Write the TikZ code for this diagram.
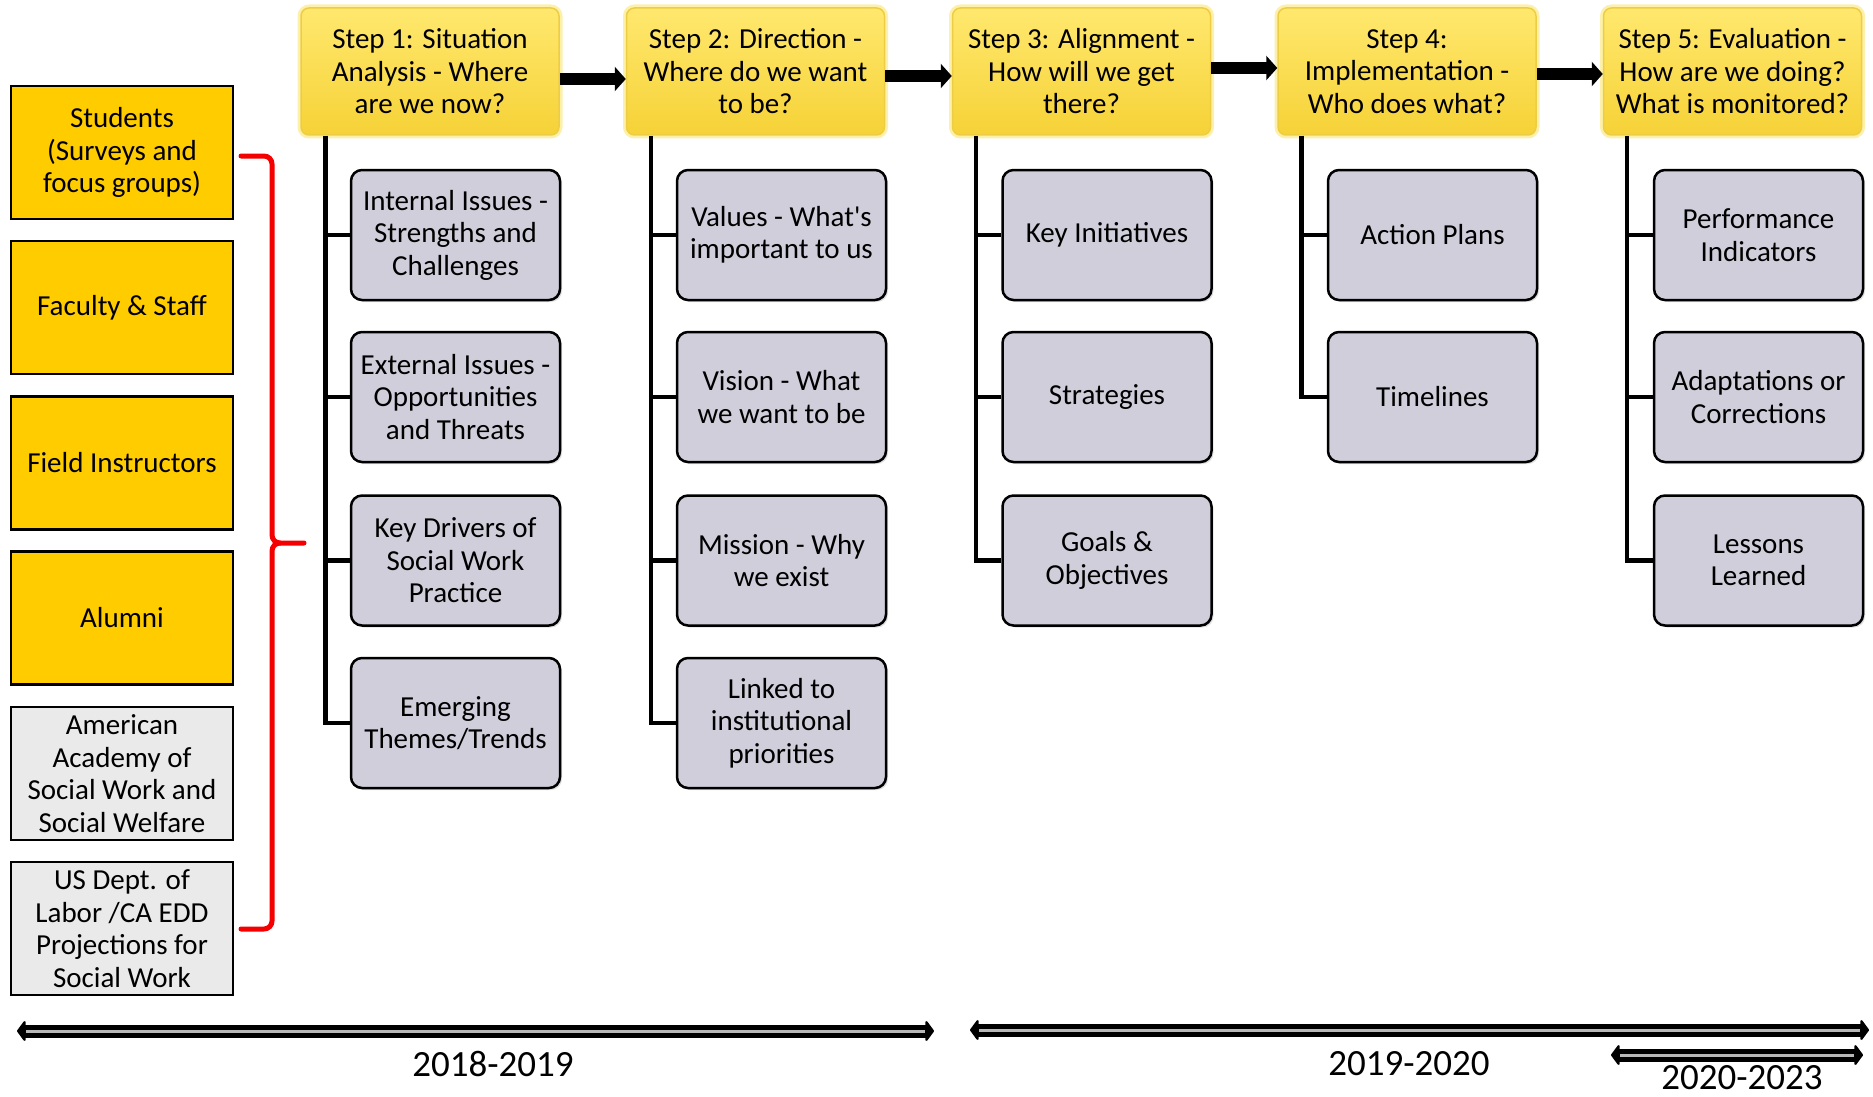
\documentclass[tikz,border=0pt]{standalone}
\usepackage{fontspec}
\setmainfont{Carlito}
\usetikzlibrary{arrows.meta,shadows}
\definecolor{steptop}{RGB}{255,232,110}
\definecolor{stepbot}{RGB}{246,210,55}
\definecolor{stepedge}{RGB}{238,205,70}
\definecolor{stepglow}{RGB}{252,240,170}
\definecolor{childfill}{RGB}{208,206,218}
\definecolor{goldfill}{RGB}{255,204,0}
\definecolor{greyfill}{RGB}{234,234,234}
\definecolor{bracered}{RGB}{245,0,0}
\begin{document}
\begin{tikzpicture}[x=1pt,y=-1pt,
  basefont/.style={font=\fontsize{29}{32.5}\selectfont},
  stepbox/.style={basefont, align=center, minimum width=258pt, minimum height=127pt, inner sep=0pt,
    rounded corners=8pt, top color=steptop, bottom color=stepbot, draw=stepedge, line width=1.5pt,
    preaction={draw=stepglow, line width=7pt}},
  childbox/.style={basefont, align=center, minimum width=209pt, minimum height=130pt, inner sep=0pt,
    rounded corners=11pt, fill=childfill, draw=black, line width=2.5pt,
    drop shadow={shadow xshift=2pt, shadow yshift=-2pt, opacity=0.25}},
  srcbox/.style={basefont, align=center, minimum width=222pt, minimum height=133pt, inner sep=0pt,
    draw=black, line width=2.5pt},
  treeline/.style={line width=4.5pt, black},
  steparrow/.style={line width=12pt, -{Triangle[width=24pt,length=11pt]}},
  tlarrow/.style={line width=13pt, black, line join=round, {Triangle[width=24pt,length=9pt,round]}-{Triangle[width=24pt,length=9pt,round]}},
  tlinner/.style={line width=3pt, black!28},
  yearlabel/.style={font=\fontsize{37}{40}\selectfont}
]
\useasboundingbox (0,0) rectangle (1873,1097);

% Step boxes
\node[stepbox] (s1) at (430,71.5) {Step 1: Situation\\Analysis - Where\\are we now?};
\node[stepbox] (s2) at (755.5,71.5) {Step 2: Direction -\\Where do we want\\to be?};
\node[stepbox] (s3) at (1081.5,71.5) {Step 3: Alignment -\\How will we get\\there?};
\node[stepbox] (s4) at (1407,71.5) {Step 4:\\Implementation -\\Who does what?};
\node[stepbox] (s5) at (1732.5,71.5) {Step 5: Evaluation -\\How are we doing?\\What is monitored?};

% Step arrows
\draw[steparrow] (s1.east |- 0,79) -- (s2.west |- 0,79);
\draw[steparrow] (s2.east |- 0,76) -- (s3.west |- 0,76);
\draw[steparrow] (s3.east |- 0,68) -- (s4.west |- 0,68);
\draw[steparrow] (s4.east |- 0,74) -- (s5.west |- 0,74);

% Children
\node[childbox] (c11) at (455.5,235) {Internal Issues -\\Strengths and\\Challenges};
\node[childbox] (c12) at (455.5,397) {External Issues -\\Opportunities\\and Threats};
\node[childbox] (c13) at (455.5,560.5) {Key Drivers of\\Social Work\\Practice};
\node[childbox] (c14) at (455.5,723) {Emerging\\Themes/Trends};

\node[childbox] (c21) at (781.5,235) {Values - What\textquotesingle s\\important to us};
\node[childbox] (c22) at (781.5,397) {Vision - What\\we want to be};
\node[childbox] (c23) at (781.5,560.5) {Mission - Why\\we exist};
\node[childbox] (c24) at (781.5,723) {Linked to\\institutional\\priorities};

\node[childbox] (c31) at (1107,235) {Key Initiatives};
\node[childbox] (c32) at (1107,397) {Strategies};
\node[childbox] (c33) at (1107,560.5) {Goals \&\\Objectives};

\node[childbox] (c41) at (1432.5,235) {Action Plans};
\node[childbox] (c42) at (1432.5,397) {Timelines};

\node[childbox] (c51) at (1758.5,235) {Performance\\Indicators};
\node[childbox] (c52) at (1758.5,397) {Adaptations or\\Corrections};
\node[childbox] (c53) at (1758.5,560.5) {Lessons\\Learned};

% Tree lines
\draw[treeline] ([xshift=25pt]s1.south west) |- (c14.west);
\foreach \c in {c11,c12,c13} \draw[treeline] ([xshift=25pt]s1.south west |- \c.west) -- (\c.west);
\draw[treeline] ([xshift=25pt]s2.south west) |- (c24.west);
\foreach \c in {c21,c22,c23} \draw[treeline] ([xshift=25pt]s2.south west |- \c.west) -- (\c.west);
\draw[treeline] ([xshift=24pt]s3.south west) |- (c33.west);
\foreach \c in {c31,c32} \draw[treeline] ([xshift=24pt]s3.south west |- \c.west) -- (\c.west);
\draw[treeline] ([xshift=24pt]s4.south west) |- (c42.west);
\draw[treeline] ([xshift=24pt]s4.south west |- c41.west) -- (c41.west);
\draw[treeline] ([xshift=24pt]s5.south west) |- (c53.west);
\foreach \c in {c51,c52} \draw[treeline] ([xshift=24pt]s5.south west |- \c.west) -- (\c.west);

% Source boxes
\node[srcbox, fill=goldfill] (l1) at (122,152.5) {Students\\(Surveys and\\focus groups)};
\node[srcbox, fill=goldfill] (l2) at (122,307.5) {Faculty \& Staff};
\node[srcbox, fill=goldfill] (l3) at (122,463) {Field Instructors};
\node[srcbox, fill=goldfill] (l4) at (122,618) {Alumni};
\node[srcbox, fill=greyfill] (l5) at (122,773.5) {American\\Academy of\\Social Work and\\Social Welfare};
\node[srcbox, fill=greyfill] (l6) at (122,928.5) {US Dept. of\\Labor /CA EDD\\Projections for\\Social Work};

% Red brace
\coordinate (bt) at (241,156);
\coordinate (bb) at (241,929);
\coordinate (btip) at (304,543);
\draw[bracered, line width=5pt, line cap=round, line join=round]
  (bt) -- (264,156) to[out=0,in=90] (272,164) -- (272,535) to[out=-90,in=180] (280,543) -- (btip);
\draw[bracered, line width=5pt, line cap=round, line join=round]
  (280,543) to[out=180,in=90] (272,551) -- (272,921) to[out=-90,in=0] (264,929) -- (bb);

% Timeline arrows
\coordinate (a1l) at (17,1031);
\coordinate (a1r) at (934,1031);
\coordinate (a2l) at (970,1030);
\coordinate (a2r) at (1869,1030);
\coordinate (a3l) at (1611,1055);
\coordinate (a3r) at (1863,1055);
\draw[tlarrow] (a1l) -- (a1r);
\draw[tlinner] ([xshift=9pt]a1l) -- ([xshift=-9pt]a1r);
\draw[tlarrow] (a2l) -- (a2r);
\draw[tlinner] ([xshift=9pt]a2l) -- ([xshift=-9pt]a2r);
\draw[tlarrow] (a3l) -- (a3r);
\draw[tlinner] ([xshift=9pt]a3l) -- ([xshift=-9pt]a3r);

\node[yearlabel] (y1) at (493,1064) {2018-2019};
\node[yearlabel] (y2) at (1409,1064) {2019-2020};
\node[yearlabel] (y3) at (1742,1078) {2020-2023};
\end{tikzpicture}
\end{document}
